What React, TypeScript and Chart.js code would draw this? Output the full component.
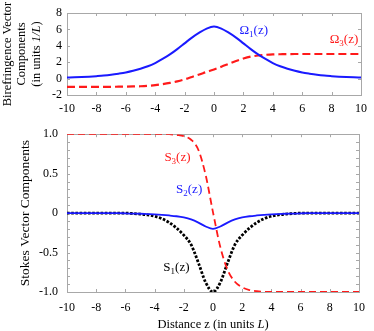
import React, { useEffect, useRef } from "react";
import { Chart, registerables } from "chart.js";
Chart.register(...registerables);

// ---------- data ----------
const zValues = [
  -10, -9.5, -9, -8.5, -8, -7.5, -7, -6.5, -6, -5.5, -5, -4.5, -4, -3.5, -3, -2.5, -2, -1.5, -1, -0.5,
  0, 0.5, 1, 1.5, 2, 2.5, 3, 3.5, 4, 4.5, 5, 5.5, 6, 6.5, 7, 7.5, 8, 8.5, 9, 9.5, 10,
];
const omega1 = [
  0.12, 0.15, 0.19, 0.24, 0.3, 0.37, 0.47, 0.6, 0.75, 0.95, 1.2, 1.5, 1.9, 2.4, 2.95, 3.6, 4.3, 5.0, 5.6, 6.1,
  6.35, 6.1, 5.6, 5.0, 4.3, 3.6, 2.95, 2.4, 1.9, 1.5, 1.2, 0.95, 0.75, 0.6, 0.47, 0.37, 0.3, 0.24, 0.19, 0.15, 0.12,
];
const omega3 = [
  -1, -1, -1, -1, -1, -1, -1, -0.99, -0.98, -0.96, -0.93, -0.88, -0.8, -0.68, -0.53, -0.34, -0.1, 0.2, 0.5, 0.82,
  1.12, 1.45, 1.8, 2.15, 2.45, 2.68, 2.82, 2.9, 2.95, 2.97, 2.99, 3, 3, 3, 3, 3, 3, 3, 3, 3, 3,
];
const stokes3 = [
  1, 1, 1, 1, 1, 1, 1, 1, 1, 1, 1, 1, 1, 1, 1, 0.99, 0.975, 0.93, 0.8, 0.48,
  0.01, -0.43, -0.72, -0.87, -0.94, -0.975, -0.99, -0.997, -1, -1, -1, -1, -1, -1, -1, -1, -1, -1, -1, -1, -1,
];
const stokes2 = [
  0, 0, 0, 0, 0, 0, 0, 0, -0.004, -0.006, -0.008, -0.012, -0.016, -0.022, -0.03, -0.04, -0.055, -0.08, -0.12, -0.17,
  -0.2, -0.17, -0.12, -0.08, -0.055, -0.04, -0.03, -0.022, -0.016, -0.012, -0.008, -0.006, -0.004, 0, 0, 0, 0, 0, 0, 0, 0,
];
const stokes1 = [
  0, 0, 0, 0, 0, 0, 0, 0, 0, -0.005, -0.012, -0.022, -0.04, -0.07, -0.12, -0.19, -0.28, -0.4, -0.63, -0.88,
  -1.0, -0.88, -0.63, -0.4, -0.28, -0.19, -0.12, -0.07, -0.04, -0.022, -0.012, -0.005, 0, 0, 0, 0, 0, 0, 0, 0, 0,
];
const xTickValues = [-10, -8, -6, -4, -2, 0, 2, 4, 6, 8, 10];
const topYTickValues = [-2, 0, 2, 4, 6, 8];
const bottomYTickValues = [-1, -0.5, 0, 0.5, 1];
const bottomYTickLabels = ["-1.0", "-0.5", "0", "0.5", "1.0"];
const bottomYMinorStep = 0.1;

// label anchors (data units): [text, subscript, z, value, color]
const topLabels: [string, string, number, number, string][] = [
  ["Ω", "1", 1.73, 5.44, "#1a1aff"],
  ["Ω", "3", 7.87, 4.34, "#ff1a1a"],
];
const bottomLabels: [string, string, number, number, string][] = [
  ["S", "3", -3.33, 0.66, "#ff1a1a"],
  ["S", "2", -2.53, 0.25, "#1a1aff"],
  ["S", "1", -3.4, -0.74, "#000000"],
];

const FONT = "'Liberation Serif', 'Times New Roman', serif";
const BLUE = "#1a1aff";
const RED = "#ff1a1a";
const BOX = "#a8a8a8";

function pts(ys: number[]) {
  return zValues.map((z, i) => ({ x: z, y: ys[i] }));
}

function drawMixed(ctx: CanvasRenderingContext2D, parts: [string, boolean][], size: number) {
  const widths = parts.map(([t, it]) => {
    ctx.font = `${it ? "italic " : ""}${size}px ${FONT}`;
    return ctx.measureText(t).width;
  });
  const total = widths.reduce((a, b) => a + b, 0);
  let x = -total / 2;
  parts.forEach(([t, it], i) => {
    ctx.font = `${it ? "italic " : ""}${size}px ${FONT}`;
    ctx.textAlign = "left";
    ctx.fillText(t, x, 0);
    x += widths[i];
  });
}

function makeDecor(
  labels: [string, string, number, number, string][],
  yMajor: number[],
  yMinorStep: number | null,
  yTitleLines: [string, boolean][][],
  yTitleX: number[],
  yTitleSize: number,
  xTitle: [string, boolean][] | null,
  xTitleY: number
) {
  return {
    id: "decor",
    beforeDatasetsDraw(chart: any) {
      const ctx = chart.ctx as CanvasRenderingContext2D;
      const { left, right, top, bottom } = chart.chartArea;
      const xs = chart.scales.x;
      const ys = chart.scales.y;
      ctx.save();
      ctx.strokeStyle = BOX;
      ctx.lineWidth = 1;
      ctx.strokeRect(Math.round(left) + 0.5, Math.round(top) + 0.5, Math.round(right - left), Math.round(bottom - top));
      ctx.beginPath();
      xTickValues.forEach((v) => {
        const px = Math.round(xs.getPixelForValue(v)) + 0.5;
        ctx.moveTo(px, bottom);
        ctx.lineTo(px, bottom - 3);
        ctx.moveTo(px, top);
        ctx.lineTo(px, top + 3);
      });
      const yVals: number[] = [...yMajor];
      if (yMinorStep) {
        for (let v = ys.min; v <= ys.max + 1e-9; v += yMinorStep) yVals.push(v);
      }
      yVals.forEach((v) => {
        const py = Math.round(ys.getPixelForValue(v)) + 0.5;
        ctx.moveTo(left, py);
        ctx.lineTo(left + 3, py);
        ctx.moveTo(right, py);
        ctx.lineTo(right - 3, py);
      });
      ctx.stroke();
      ctx.restore();
    },
    afterDatasetsDraw(chart: any) {
      const ctx = chart.ctx as CanvasRenderingContext2D;
      const xs = chart.scales.x;
      const ys = chart.scales.y;
      const { left, right, top, bottom } = chart.chartArea;
      ctx.save();
      ctx.textBaseline = "alphabetic";
      labels.forEach(([t, sub, z, v, color]) => {
        let x = xs.getPixelForValue(z);
        const y = ys.getPixelForValue(v);
        ctx.fillStyle = color;
        ctx.textAlign = "left";
        ctx.font = `13px ${FONT}`;
        ctx.fillText(t, x, y);
        x += ctx.measureText(t).width;
        ctx.font = `9px ${FONT}`;
        ctx.fillText(sub, x, y + 3);
        x += ctx.measureText(sub).width;
        ctx.font = `13px ${FONT}`;
        ctx.fillText("(z)", x, y);
      });
      // y title
      ctx.fillStyle = "#000";
      ctx.textBaseline = "middle";
      const cy = (top + bottom) / 2;
      yTitleLines.forEach((parts, i) => {
        ctx.save();
        ctx.translate(yTitleX[i], cy);
        ctx.rotate(-Math.PI / 2);
        drawMixed(ctx, parts, yTitleSize);
        ctx.restore();
      });
      if (xTitle) {
        ctx.save();
        ctx.translate((left + right) / 2, xTitleY);
        drawMixed(ctx, xTitle, 12.5);
        ctx.restore();
      }
      ctx.restore();
    },
  };
}

function baseOptions(
  yMin: number,
  yMax: number,
  yTicks: number[],
  yLabel: (v: number) => string,
  padTop: number,
  xHeight: number,
  xPad: number,
  yPad: number
): any {
  return {
    responsive: false,
    animation: false,
    devicePixelRatio: 1,
    layout: { padding: { top: padTop, right: 7.5, left: 0, bottom: 0 } },
    plugins: { legend: { display: false }, tooltip: { enabled: false } },
    elements: { point: { radius: 0 }, line: { cubicInterpolationMode: "monotone" } },
    scales: {
      x: {
        type: "linear",
        min: -10,
        max: 10,
        grid: { display: false, drawTicks: false },
        border: { display: false },
        afterBuildTicks: (s: any) => {
          s.ticks = xTickValues.map((v) => ({ value: v }));
        },
        afterFit: (s: any) => {
          s.height = xHeight;
        },
        ticks: {
          font: { family: FONT, size: 12 },
          color: "#000",
          padding: xPad,
          maxRotation: 0,
          autoSkip: false,
          callback: (v: number) => String(v),
        },
      },
      y: {
        type: "linear",
        min: yMin,
        max: yMax,
        grid: { display: false, drawTicks: false },
        border: { display: false },
        afterBuildTicks: (s: any) => {
          s.ticks = yTicks.map((v) => ({ value: v }));
        },
        ticks: {
          autoSkip: false,
          font: { family: FONT, size: 12 },
          color: "#000",
          padding: yPad,
          callback: (v: number) => yLabel(v),
        },
        afterFit: (s: any) => {
          s.width = 67;
        },
      },
    },
  };
}

export default function App() {
  const topRef = useRef<HTMLCanvasElement>(null);
  const botRef = useRef<HTMLCanvasElement>(null);

  useEffect(() => {
    const topChart = new Chart(topRef.current!, {
      type: "line",
      data: {
        datasets: [
          { data: pts(omega1), borderColor: BLUE, borderWidth: 2, fill: false },
          { data: pts(omega3), borderColor: RED, borderWidth: 2.2, borderDash: [8, 4], fill: false },
        ],
      },
      options: baseOptions(-2, 8, topYTickValues, (v) => String(v), 13, 23, 7, 5),
      plugins: [
        makeDecor(
          topLabels,
          topYTickValues,
          null,
          [
            [["Birefringence Vector", false]],
            [["Components", false]],
            [["(in units ", false], ["1/L", true], [")", false]],
          ],
          [7.5, 22, 36.5],
          12.5,
          null,
          0
        ),
      ],
    } as any);

    const botChart = new Chart(botRef.current!, {
      type: "line",
      data: {
        datasets: [
          { data: pts(stokes3), borderColor: RED, borderWidth: 1.8, borderDash: [7, 4], fill: false },
          { data: pts(stokes2), borderColor: BLUE, borderWidth: 1.8, fill: false },
          { data: pts(stokes1), borderColor: "#000", borderWidth: 2.8, borderDash: [2.6, 1.6], fill: false },
        ],
      },
      options: baseOptions(
        -1,
        1,
        bottomYTickValues,
        (v) => {
          const i = bottomYTickValues.findIndex((t) => Math.abs(t - v) < 1e-9);
          return i >= 0 ? bottomYTickLabels[i] : "";
        },
        14,
        39,
        9,
        9
      ),
      plugins: [
        makeDecor(
          bottomLabels,
          bottomYTickValues,
          bottomYMinorStep,
          [[["Stokes Vector Components", false]]],
          [25],
          13.5,
          [["Distance z (in units ", false], ["L", true], [")", false]],
          207
        ),
      ],
    } as any);

    return () => {
      topChart.destroy();
      botChart.destroy();
    };
  }, []);

  return (
    <div style={{ position: "absolute", left: 0, top: 0, width: 374, height: 331, background: "#fff" }}>
      <canvas ref={topRef} width={374} height={118} style={{ position: "absolute", left: 0, top: 0 }} />
      <canvas ref={botRef} width={374} height={213} style={{ position: "absolute", left: 0, top: 118 }} />
    </div>
  );
}
